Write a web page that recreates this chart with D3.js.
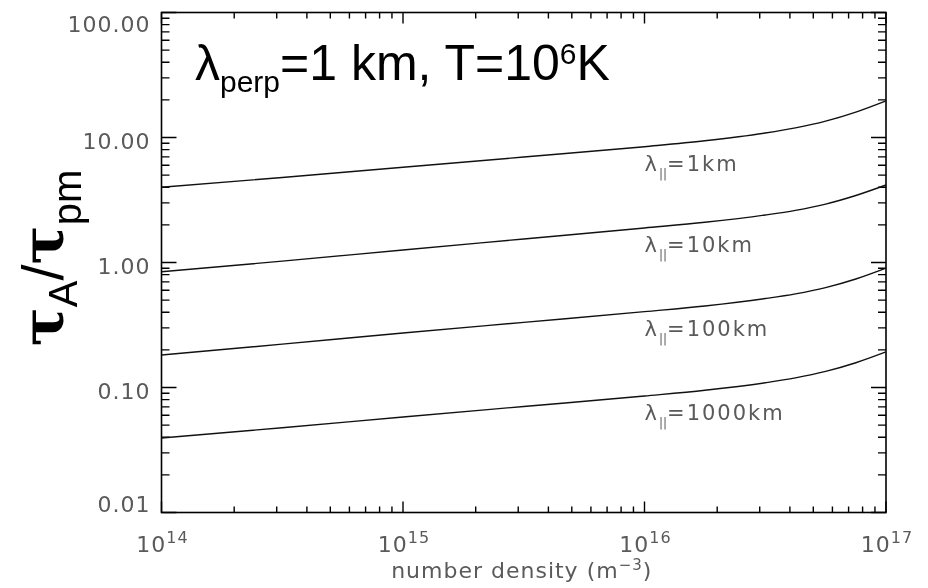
<!DOCTYPE html>
<html>

<head>
    <meta charset="UTF-8">
    <script src="https://d3js.org/d3.v7.min.js"></script>
    <style>
        body {
            margin: 0;
            background-color: #fff;
        }

        #chart {
            will-change: transform;
        }

        .tick-label {
            font-family: 'DejaVu Sans', sans-serif;
            font-size: 22px;
            fill: #5a5a5a;
            letter-spacing: 1px;
        }

        .curve-label {
            font-family: 'DejaVu Sans', sans-serif;
            font-size: 21px;
            fill: #5a5a5a;
            letter-spacing: 2px;
        }

        .big-text {
            font-family: 'Liberation Sans', Arial, sans-serif;
            fill: #000;
        }
    </style>
</head>

<body>
    <svg id="chart" width="928" height="588"></svg>
    <script>
        var densityExp = [14, 14.5, 15, 15.5, 16, 16.25, 16.5, 16.625, 16.75, 16.875, 17];

        // tau_A / tau_pm for each lambda_parallel
        var lam1 = [4.0, 4.79, 5.78, 6.98, 8.44, 9.41, 10.86, 11.94, 13.52, 15.98, 19.66];
        var lam10 = [0.844, 1.025, 1.26, 1.543, 1.89, 2.098, 2.40, 2.615, 2.934, 3.436, 4.168];
        var lam100 = [0.182, 0.2223, 0.2728, 0.3322, 0.4043, 0.4489, 0.5148, 0.5612, 0.630, 0.7383, 0.9024];
        var lam1000 = [0.0394, 0.04766, 0.05809, 0.0705, 0.0855, 0.09504, 0.10914, 0.1194, 0.13452, 0.15788, 0.19267];

        var seriesNames = ["1km", "10km", "100km", "1000km"];
        var seriesValues = [lam1, lam10, lam100, lam1000];

        var xTickExp = [14, 15, 16, 17];
        var yTicks = [0.01, 0.1, 1, 10, 100];
        var yTickLabels = ["0.01", "0.10", "1.00", "10.00", "100.00"];

        var width = 928;
        var height = 588;
        var margin = { left: 161.5, right: 42, top: 12.5, bottom: 75.5 };

        var svg = d3.select("#chart").attr("width", width).attr("height", height);

        var x = d3.scaleLog().domain([1e14, 1e17]).range([margin.left, width - margin.right]);
        var y = d3.scaleLog().domain([0.01, 100]).range([height - margin.bottom, margin.top]);

        var pLeft = margin.left, pRight = width - margin.right;
        var pBottom = height - margin.bottom, pTop = margin.top;

        // minor ticks 2..9 in every decade
        var xMajor = xTickExp.map(function (e) { return Math.pow(10, e); });
        var xMinor = [];
        xMajor.slice(0, -1).forEach(function (v) {
            for (var k = 2; k < 10; k++) xMinor.push(k * v);
        });
        var yMinor = [];
        yTicks.slice(0, -1).forEach(function (v) {
            for (var k = 2; k < 10; k++) yMinor.push(k * v);
        });

        // frame
        svg.append("rect")
            .attr("x", pLeft).attr("y", pTop)
            .attr("width", pRight - pLeft).attr("height", pBottom - pTop)
            .attr("fill", "none")
            .attr("stroke", "#000")
            .attr("stroke-width", 1.6);

        // tick marks on all four sides, pointing inward, as one path each
        function tickPath(vals, len, horizontal) {
            var d = vals.map(function (v) {
                if (horizontal) {
                    var px = x(v);
                    return "M" + px + "," + pBottom + "v" + (-len) + "M" + px + "," + pTop + "v" + len;
                }
                var py = y(v);
                return "M" + pLeft + "," + py + "h" + len + "M" + pRight + "," + py + "h" + (-len);
            }).join("");
            svg.append("path")
                .attr("d", d)
                .attr("fill", "none")
                .attr("stroke", "#000")
                .attr("stroke-width", 1.4);
        }
        tickPath(xMajor, 11, true);
        tickPath(xMinor, 6, true);
        tickPath(yTicks, 15, false);
        tickPath(yMinor, 8, false);

        // y tick labels (ends pulled inside like IDL does)
        svg.selectAll(".ylab")
            .data(yTicks)
            .enter()
            .append("text")
            .attr("class", "tick-label")
            .attr("text-anchor", "end")
            .attr("x", pLeft - 11)
            .attr("y", function (d) { return Math.min(Math.max(y(d) + 11, pTop + 19), pBottom - 0.5); })
            .text(function (d, i) { return yTickLabels[i]; });

        // x tick labels 10^n
        var xl = svg.selectAll(".xlab")
            .data(xTickExp)
            .enter()
            .append("text")
            .attr("class", "tick-label")
            .attr("text-anchor", "middle")
            .attr("x", function (d) { return x(Math.pow(10, d)) + 1; })
            .attr("y", pBottom + 39);
        xl.append("tspan").text("10");
        xl.append("tspan").attr("dy", -9).attr("font-size", 16).text(function (d) { return d; });

        // x axis title
        var xt = svg.append("text")
            .attr("class", "tick-label")
            .attr("text-anchor", "middle")
            .attr("letter-spacing", 1.5)
            .attr("x", (pLeft + pRight) / 2 - 2)
            .attr("y", pBottom + 65);
        xt.append("tspan").text("number density (m");
        xt.append("tspan").attr("dy", -8).attr("font-size", 15).text("\u22123");
        xt.append("tspan").attr("dy", 8).text(")");

        // curves
        var lineGen = d3.line()
            .x(function (d) { return x(Math.pow(10, d[0])); })
            .y(function (d) { return y(d[1]); })
            .curve(d3.curveMonotoneX);

        seriesValues.forEach(function (vals, i) {
            var pts = densityExp.map(function (e, j) { return [e, vals[j]]; });
            svg.append("path")
                .datum(pts)
                .attr("d", lineGen)
                .attr("fill", "none")
                .attr("stroke", "#111")
                .attr("stroke-width", 1.4);

            // label sits under the curve at n = 1e16
            var lab = svg.append("text")
                .attr("class", "curve-label")
                .attr("x", x(1e16))
                .attr("y", y(vals[4]) + 24);
            lab.append("tspan").text("\u03bb");
            lab.append("tspan").attr("dy", 7).attr("font-size", 12).attr("letter-spacing", 0).text("||");
            lab.append("tspan").attr("dy", -7).text("=" + seriesNames[i]);
        });

        // title inside the plot
        var title = svg.append("text")
            .attr("class", "big-text")
            .attr("x", 195)
            .attr("y", 80)
            .attr("font-size", 50);
        title.append("tspan").text("\u03bb");
        title.append("tspan").attr("dy", 12).attr("font-size", 30).text("perp");
        title.append("tspan").attr("dy", -12).text("=1 km, T=10");
        title.append("tspan").attr("dy", -16).attr("font-size", 30).text("6");
        title.append("tspan").attr("dy", 16).text("K");

        // y axis title tau_A / tau_pm
        var yt = svg.append("text")
            .attr("class", "big-text")
            .attr("text-anchor", "middle")
            .attr("transform", "translate(63," + 258 + ") rotate(-90)")
            .attr("font-size", 58);
        yt.append("tspan").attr("font-family", "'DejaVu Serif', serif").attr("font-weight", "bold").text("\u03c4");
        yt.append("tspan").attr("dy", 14).attr("font-size", 40).text("A");
        yt.append("tspan").attr("dy", -14).text("/");
        yt.append("tspan").attr("font-family", "'DejaVu Serif', serif").attr("font-weight", "bold").text("\u03c4");
        yt.append("tspan").attr("dy", 18).attr("font-size", 40).text("pm");
    </script>
</body>

</html>
